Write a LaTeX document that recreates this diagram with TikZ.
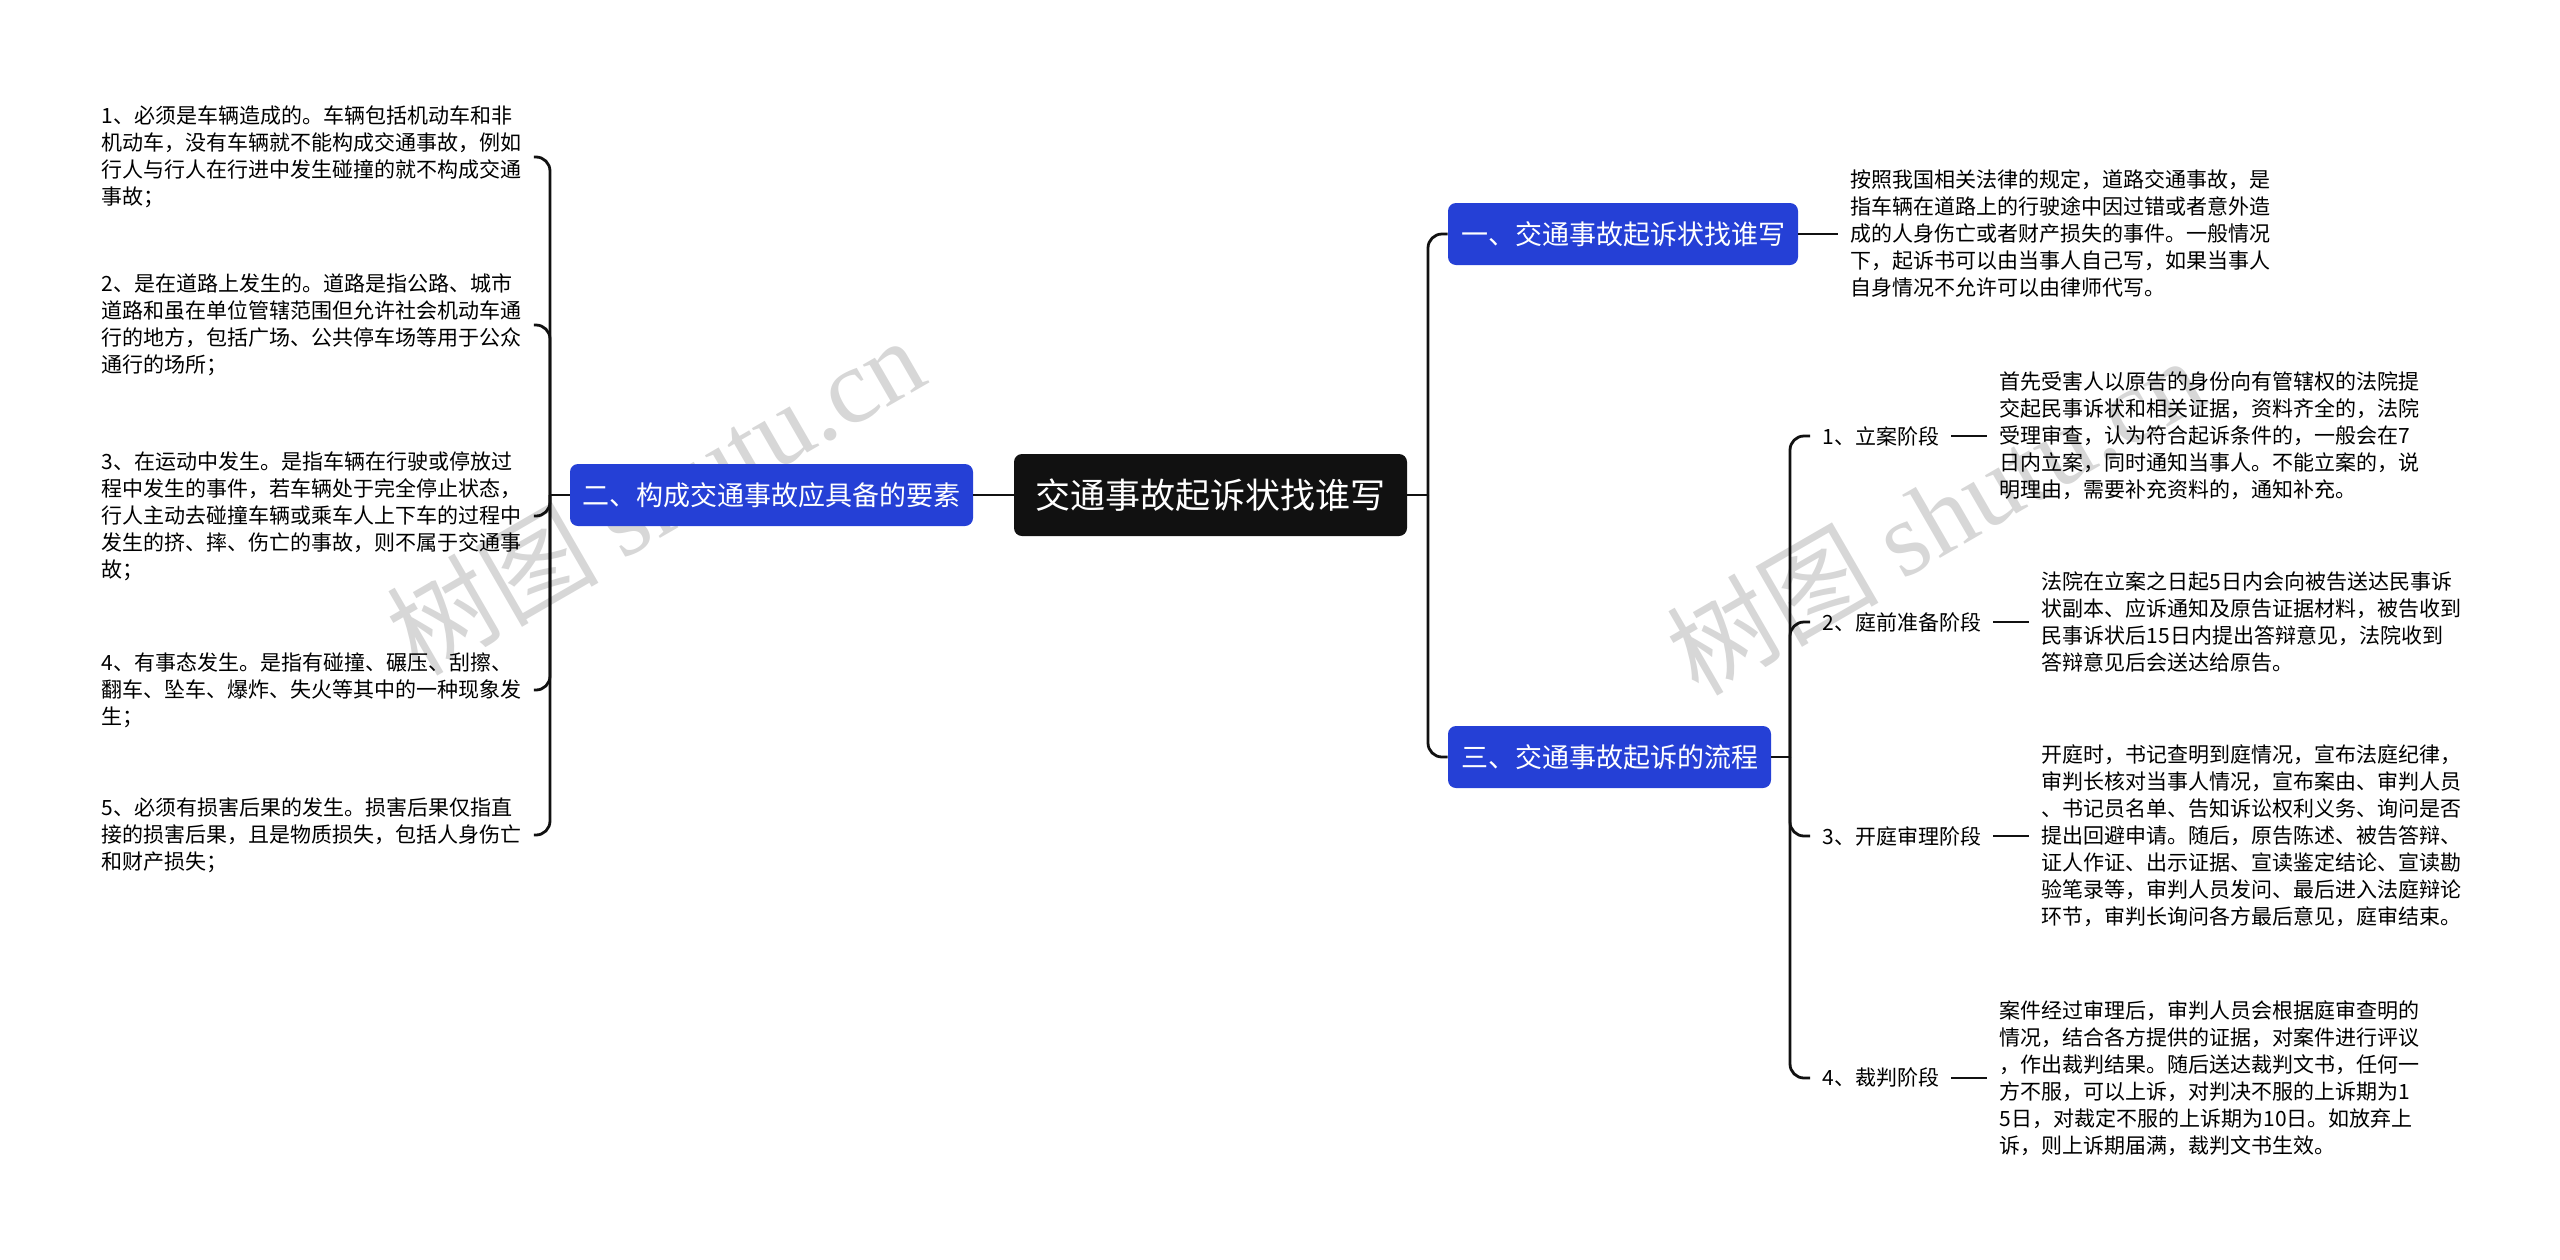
\documentclass[tikz,border=0pt]{standalone}
\usepackage{xcolor}
\usepackage{fontspec}
\setmainfont{Noto Sans CJK SC}
\newfontfamily\hurufserif{Liberation Serif}
\usepackage{tikz}
\usetikzlibrary{positioning}
\definecolor{biru}{RGB}{37,64,214}
\definecolor{hitam}{RGB}{17,17,17}
\definecolor{abu}{RGB}{215,215,215}

\begin{document}
\begin{tikzpicture}[
    x=0.5pt, y=-0.5pt,
    font=\fontsize{10.5}{13.5}\selectfont,
    akar/.style={fill=hitam, text=white, rounded corners=4pt, minimum width=196.5pt,
                 minimum height=41pt, font=\fontsize{17.5}{20}\selectfont},
    cabang/.style={fill=biru, text=white, rounded corners=4pt, minimum height=31pt,
                   inner xsep=0pt, font=\fontsize{13.5}{16}\selectfont},
    teks/.style={align=left, inner xsep=6pt, inner ysep=2pt},
    tahap/.style={inner xsep=6pt},
    garis/.style={draw=hitam, line width=1.4pt, rounded corners=7pt},
    tanda/.style={text=abu, rotate=30, font=\fontsize{53}{53}\selectfont}
  ]
    \useasboundingbox (0,0) rectangle (2560,1259);

    % watermark
    \node[tanda] (tanda1) at (655,495) {树图 {\hurufserif shutu.cn}};
    \node[tanda] (tanda2) at (1935,515) {树图 {\hurufserif shutu.cn}};

    % pusat dan cabang
    \node[akar] (akar) at (1210.5,495) {交通事故起诉状找谁写};
    \node[cabang, minimum width=201.5pt] (syarat) at (771.5,495) {二、构成交通事故应具备的要素};
    \node[cabang, minimum width=175pt] (siapa) at (1623,234) {一、交通事故起诉状找谁写};
    \node[cabang, minimum width=161.5pt] (alur) at (1609.5,757) {三、交通事故起诉的流程};

    % kiri
    \node[teks, anchor=west] (u1) at (89,157) {1、必须是车辆造成的。车辆包括机动车和非\\机动车，没有车辆就不能构成交通事故，例如\\行人与行人在行进中发生碰撞的就不构成交通\\事故；};
    \node[teks, anchor=west] (u2) at (89,325) {2、是在道路上发生的。道路是指公路、城市\\道路和虽在单位管辖范围但允许社会机动车通\\行的地方，包括广场、公共停车场等用于公众\\通行的场所；};
    \node[teks, anchor=west] (u3) at (89,516) {3、在运动中发生。是指车辆在行驶或停放过\\程中发生的事件，若车辆处于完全停止状态，\\行人主动去碰撞车辆或乘车人上下车的过程中\\发生的挤、摔、伤亡的事故，则不属于交通事\\故；};
    \node[teks, anchor=west] (u4) at (89,690) {4、有事态发生。是指有碰撞、碾压、刮擦、\\翻车、坠车、爆炸、失火等其中的一种现象发\\生；};
    \node[teks, anchor=west] (u5) at (89,835) {5、必须有损害后果的发生。损害后果仅指直\\接的损害后果，且是物质损失，包括人身伤亡\\和财产损失；};

    % kanan atas
    \node[teks, right=20pt of siapa] (jawab) {按照我国相关法律的规定，道路交通事故，是\\指车辆在道路上的行驶途中因过错或者意外造\\成的人身伤亡或者财产损失的事件。一般情况\\下，起诉书可以由当事人自己写，如果当事人\\自身情况不允许可以由律师代写。};

    % tahap
    \node[tahap, anchor=west] (t1) at (1810,436) {1、立案阶段};
    \node[tahap, anchor=west] (t2) at (1810,622) {2、庭前准备阶段};
    \node[tahap, anchor=west] (t3) at (1810,836) {3、开庭审理阶段};
    \node[tahap, anchor=west] (t4) at (1810,1078) {4、裁判阶段};

    \node[teks, right=18pt of t1] (d1) {首先受害人以原告的身份向有管辖权的法院提\\交起民事诉状和相关证据，资料齐全的，法院\\受理审查，认为符合起诉条件的，一般会在7\\日内立案，同时通知当事人。不能立案的，说\\明理由，需要补充资料的，通知补充。};
    \node[teks, right=18pt of t2] (d2) {法院在立案之日起5日内会向被告送达民事诉\\状副本、应诉通知及原告证据材料，被告收到\\民事诉状后15日内提出答辩意见，法院收到\\答辩意见后会送达给原告。};
    \node[teks, right=18pt of t3] (d3) {开庭时，书记查明到庭情况，宣布法庭纪律，\\审判长核对当事人情况，宣布案由、审判人员\\、书记员名单、告知诉讼权利义务、询问是否\\提出回避申请。随后，原告陈述、被告答辩、\\证人作证、出示证据、宣读鉴定结论、宣读勘\\验笔录等，审判人员发问、最后进入法庭辩论\\环节，审判长询问各方最后意见，庭审结束。};
    \node[teks, right=18pt of t4] (d4) {案件经过审理后，审判人员会根据庭审查明的\\情况，结合各方提供的证据，对案件进行评议\\，作出裁判结果。随后送达裁判文书，任何一\\方不服，可以上诉，对判决不服的上诉期为1\\5日，对裁定不服的上诉期为10日。如放弃上\\诉，则上诉期届满，裁判文书生效。};

    % titik cabang
    \coordinate (kj) at (550,495);
    \coordinate (rj) at (1428,495);
    \coordinate (sj) at (1790,757);

    \draw[garis] (akar) -- (syarat);
    \draw[garis] (syarat.west) -- (kj);
    \foreach \u in {u1,u2,u3,u4,u5}
      \draw[garis] (kj) |- (\u.east);

    \draw[garis] (akar.east) -- (rj);
    \draw[garis] (rj) |- (siapa.west);
    \draw[garis] (rj) |- (alur.west);
    \draw[garis] (siapa) -- (jawab);

    \draw[garis] (alur.east) -- (sj);
    \foreach \i in {1,2,3,4} {
      \draw[garis] (sj) |- (t\i.west);
      \draw[garis] (t\i) -- (d\i);
    }
\end{tikzpicture}
\end{document}
